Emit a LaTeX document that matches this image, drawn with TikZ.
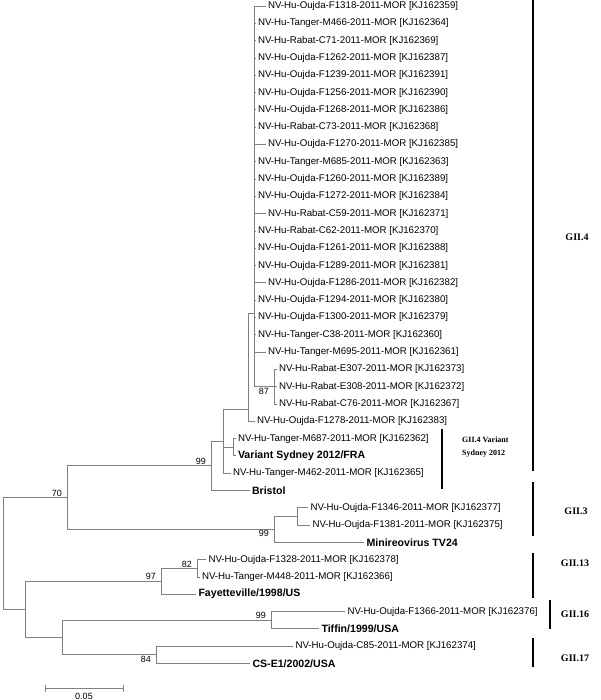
\documentclass[tikz,border=0pt]{standalone}
\usepackage{fontspec}
\setmainfont{Liberation Sans}
\newfontfamily\clfont{Liberation Serif}

\begin{document}
\begin{tikzpicture}[x=1pt,y=-1pt,
  br/.style={draw=black!50,line width=0.7pt},
  lf/.style={anchor=west,inner sep=0pt,outer sep=2.5pt,font=\fontsize{9.7}{10}\selectfont},
  bl/.style={lf,font=\fontsize{10.6}{11}\selectfont\bfseries},
  bs/.style={inner sep=1pt,xshift=-4pt,font=\fontsize{9}{9}\selectfont},
  bar/.style={line width=2.8pt},
  cl/.style={inner sep=0pt,font=\fontsize{10}{11}\selectfont\clfont\bfseries}]
\useasboundingbox (0,0) rectangle (600,700);
% inner nodes
\coordinate (r) at (3,553.5);
\coordinate (n70) at (67,497.6);
\coordinate (n99a) at (211,465.7);
\coordinate (n223) at (223,441);
\coordinate (nQ) at (248,409);
\coordinate (nP) at (254,313);
\coordinate (n87) at (274,386.6);
\coordinate (nSyd) at (233,447.2);
\coordinate (nG3) at (274,529.2);
\coordinate (nG3a) at (297,516.4);
\coordinate (n608) at (25,609.3);
\coordinate (n97) at (161,581.2);
\coordinate (n82) at (197,568.3);
\coordinate (n638) at (62,637.5);
\coordinate (n99c) at (271,620.2);
\coordinate (n84) at (156,654.8);
% GII.4 leaves
\foreach \xe/\t [count=\i] in {
  265.5/{NV-Hu-Oujda-F1318-2011-MOR [KJ162359]},
  255.5/{NV-Hu-Tanger-M466-2011-MOR [KJ162364]},
  255.5/{NV-Hu-Rabat-C71-2011-MOR [KJ162369]},
  255.5/{NV-Hu-Oujda-F1262-2011-MOR [KJ162387]},
  255.5/{NV-Hu-Oujda-F1239-2011-MOR [KJ162391]},
  255.5/{NV-Hu-Oujda-F1256-2011-MOR [KJ162390]},
  255.5/{NV-Hu-Oujda-F1268-2011-MOR [KJ162386]},
  255.5/{NV-Hu-Rabat-C73-2011-MOR [KJ162368]},
  265.5/{NV-Hu-Oujda-F1270-2011-MOR [KJ162385]},
  255.5/{NV-Hu-Tanger-M685-2011-MOR [KJ162363]},
  255.5/{NV-Hu-Oujda-F1260-2011-MOR [KJ162389]},
  255.5/{NV-Hu-Oujda-F1272-2011-MOR [KJ162384]},
  265.5/{NV-Hu-Rabat-C59-2011-MOR [KJ162371]},
  255.5/{NV-Hu-Rabat-C62-2011-MOR [KJ162370]},
  255.5/{NV-Hu-Oujda-F1261-2011-MOR [KJ162388]},
  255.5/{NV-Hu-Oujda-F1289-2011-MOR [KJ162381]},
  265.5/{NV-Hu-Oujda-F1286-2011-MOR [KJ162382]},
  255.5/{NV-Hu-Oujda-F1294-2011-MOR [KJ162380]},
  255.5/{NV-Hu-Oujda-F1300-2011-MOR [KJ162379]},
  255.5/{NV-Hu-Tanger-C38-2011-MOR [KJ162360]},
  265.5/{NV-Hu-Tanger-M695-2011-MOR [KJ162361]}}
  {\node[lf] (g\i) at (\xe,{6+17.3*(\i-1)}) {\t};
   \draw[br] (nP) |- (g\i.west);}
\node[lf] (e307) at (276.5,369.3) {NV-Hu-Rabat-E307-2011-MOR [KJ162373]};
\node[lf] (e308) at (276.5,386.6) {NV-Hu-Rabat-E308-2011-MOR [KJ162372]};
\node[lf] (c76) at (276.5,403.9) {NV-Hu-Rabat-C76-2011-MOR [KJ162367]};
\node[lf] (f1278) at (254.5,421.2) {NV-Hu-Oujda-F1278-2011-MOR [KJ162383]};
\node[lf] (m687) at (235.5,438.5) {NV-Hu-Tanger-M687-2011-MOR [KJ162362]};
\node[bl] (syd) at (235.5,455.8) {Variant Sydney 2012/FRA};
\node[lf] (m462) at (230.5,473.1) {NV-Hu-Tanger-M462-2011-MOR [KJ162365]};
\node[bl] (bri) at (249.5,490.4) {Bristol};
% other genotypes
\node[lf] (f1346) at (308,507.7) {NV-Hu-Oujda-F1346-2011-MOR [KJ162377]};
\node[lf] (f1381) at (310,525) {NV-Hu-Oujda-F1381-2011-MOR [KJ162375]};
\node[bl] (mini) at (364,542.3) {Minireovirus TV24};
\node[lf] (f1328) at (206,559.6) {NV-Hu-Oujda-F1328-2011-MOR [KJ162378]};
\node[lf] (m448) at (199.5,576.9) {NV-Hu-Tanger-M448-2011-MOR [KJ162366]};
\node[bl] (fay) at (196,594.2) {Fayetteville/1998/US};
\node[lf] (f1366) at (345,611.5) {NV-Hu-Oujda-F1366-2011-MOR [KJ162376]};
\node[bl] (tif) at (319,628.8) {Tiffin/1999/USA};
\node[lf] (c85) at (293,646.1) {NV-Hu-Oujda-C85-2011-MOR [KJ162374]};
\node[bl] (cse) at (250,663.4) {CS-E1/2002/USA};
% branches
\draw[br] (r) |- (n70) (r) |- (n608);
\draw[br] (n70) |- (n99a) (n70) |- (nG3);
\draw[br] (n99a) |- (n223) (n99a) |- (bri.west);
\draw[br] (n223) |- (nQ) (n223) |- (nSyd) (n223) |- (m462.west);
\draw[br] (nSyd) |- (m687.west) (nSyd) |- (syd.west);
\draw[br] (nQ) |- (nP) (nQ) |- (f1278.west);
\draw[br] (nP) |- (n87);
\draw[br] (n87) |- (e307.west) (n87) |- (e308.west) (n87) |- (c76.west);
\draw[br] (nG3) |- (nG3a) (nG3) |- (mini.west);
\draw[br] (nG3a) |- (f1346.west) (nG3a) |- (f1381.west);
\draw[br] (n608) |- (n97) (n608) |- (n638);
\draw[br] (n97) |- (n82) (n97) |- (fay.west);
\draw[br] (n82) |- (f1328.west) (n82) |- (m448.west);
\draw[br] (n638) |- (n99c) (n638) |- (n84);
\draw[br] (n99c) |- (f1366.west) (n99c) |- (tif.west);
\draw[br] (n84) |- (c85.west) (n84) |- (cse.west);
% bootstrap values
\node[bs,above left] at (n70) {70};
\node[bs,above left] at (n99a) {99};
\node[bs,below left] at (n87) {87};
\node[bs,below left] at (nG3) {99};
\node[bs,above left] at (n97) {97};
\node[bs,above left] at (n82) {82};
\node[bs,above left] at (n99c) {99};
\node[bs,below left] at (n84) {84};
% scale bar
\draw[br] (45,684.5) -- (45,691.5) (45,688) -- (123,688) (123,684.5) -- (123,691.5);
\node[inner sep=0pt,font=\fontsize{9}{9}\selectfont] (sc) at (84,696) {0.05};
% genotype bars
\draw[bar] (533,0) -- (533,471);
\node[cl] (t4) at (577,237) {GII.4};
\draw[bar] (442,429) -- (442,489);
\node[cl,anchor=north west,align=left,font=\fontsize{8}{12.5}\selectfont\clfont\bfseries] (tv) at (462,437) {GII.4 Variant\\Sydney 2012};
\draw[bar] (533,482) -- (533,536);
\node[cl] (t3) at (576,511) {GII.3};
\draw[bar] (533,553) -- (533,598);
\node[cl] (t13) at (575,563) {GII.13};
\draw[bar] (550,600) -- (550,629);
\node[cl] (t16) at (575,614) {GII.16};
\draw[bar] (533,638) -- (533,667);
\node[cl] (t17) at (575,658) {GII.17};
\end{tikzpicture}
\end{document}
